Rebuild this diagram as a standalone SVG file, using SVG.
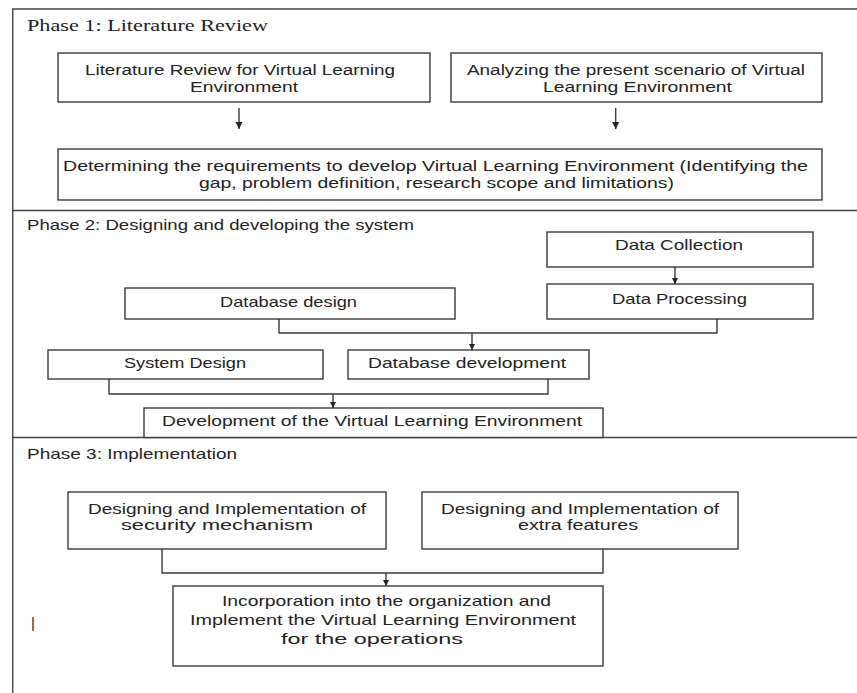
<svg xmlns="http://www.w3.org/2000/svg" width="857" height="693" viewBox="0 0 857 693">
<defs>
<marker id="ah" viewBox="0 0 10 10" refX="10" refY="5" markerUnits="userSpaceOnUse" markerWidth="7" markerHeight="9" orient="auto">
<path d="M0,0 L10,5 L0,10 z" fill="#222"/>
</marker>
<marker id="ahs" viewBox="0 0 10 10" refX="10" refY="5" markerUnits="userSpaceOnUse" markerWidth="6" markerHeight="8" orient="auto">
<path d="M0,0 L10,5 L0,10 z" fill="#222"/>
</marker>
</defs>
<style>
.box{fill:#fff;stroke:#3a3a3a;stroke-width:1.4}
.frame{fill:none;stroke:#444;stroke-width:1.4}
.con{fill:none;stroke:#3a3a3a;stroke-width:1.4}
.t{font-family:"Liberation Sans",Arial,sans-serif;font-size:15px;fill:#222}
.m{font-size:13.8px}
.serif{font-family:"Liberation Serif","Times New Roman",serif;font-size:17px;fill:#222}
</style>
<rect width="857" height="693" fill="#fff"/>
<g id="frame">
<path class="frame" d="M857,9 H12.7 V693"/>
<line class="frame" x1="12.7" y1="210.5" x2="857" y2="210.5"/>
<line class="frame" x1="12.7" y1="437.5" x2="857" y2="437.5"/>
</g>
<g id="titles">
<text class="serif" x="27" y="31" textLength="241" lengthAdjust="spacingAndGlyphs">Phase 1: Literature Review</text>
<text class="t" x="27" y="229.5" textLength="387" lengthAdjust="spacingAndGlyphs">Phase 2: Designing and developing the system</text>
<text class="t" x="27" y="459" textLength="210" lengthAdjust="spacingAndGlyphs">Phase 3: Implementation</text>
</g>
<g id="n-litreview">
<rect class="box" x="58" y="53" width="372" height="49"/>
<text class="t m" x="85" y="75" textLength="310" lengthAdjust="spacingAndGlyphs">Literature Review for Virtual Learning</text>
<text class="t m" x="190" y="91.5" textLength="108" lengthAdjust="spacingAndGlyphs">Environment</text>
</g>
<g id="n-analyzing">
<rect class="box" x="451" y="53" width="371" height="49"/>
<text class="t m" x="467" y="75" textLength="338" lengthAdjust="spacingAndGlyphs">Analyzing the present scenario of Virtual</text>
<text class="t m" x="543" y="91.5" textLength="189" lengthAdjust="spacingAndGlyphs">Learning Environment</text>
</g>
<g id="n-requirements">
<rect class="box" x="58" y="149" width="764" height="51"/>
<text class="t m" x="63" y="170.5" textLength="745" lengthAdjust="spacingAndGlyphs">Determining the requirements to develop Virtual Learning Environment (Identifying the</text>
<text class="t m" x="199" y="188" textLength="475" lengthAdjust="spacingAndGlyphs">gap, problem definition, research scope and limitations)</text>
</g>
<g id="n-datacollection">
<rect class="box" x="547" y="232" width="266" height="35"/>
<text class="t" x="615" y="250" textLength="128" lengthAdjust="spacingAndGlyphs">Data Collection</text>
</g>
<g id="n-dataprocessing">
<rect class="box" x="547" y="284" width="266" height="35"/>
<text class="t" x="612" y="304" textLength="135" lengthAdjust="spacingAndGlyphs">Data Processing</text>
</g>
<g id="n-dbdesign">
<rect class="box" x="125" y="288" width="330" height="31"/>
<text class="t" x="220" y="306.5" textLength="137" lengthAdjust="spacingAndGlyphs">Database design</text>
</g>
<g id="n-systemdesign">
<rect class="box" x="48" y="350" width="275" height="29"/>
<text class="t" x="124" y="368" textLength="122" lengthAdjust="spacingAndGlyphs">System Design</text>
</g>
<g id="n-dbdev">
<rect class="box" x="348" y="350" width="241" height="29"/>
<text class="t" x="368" y="368" textLength="198" lengthAdjust="spacingAndGlyphs">Database development</text>
</g>
<g id="n-development">
<rect class="box" x="144" y="408" width="459" height="29.5"/>
<text class="t" x="162" y="426" textLength="420" lengthAdjust="spacingAndGlyphs">Development of the Virtual Learning Environment</text>
</g>
<g id="n-security">
<rect class="box" x="68" y="492" width="318" height="57"/>
<text class="t m" x="88" y="513.5" textLength="278" lengthAdjust="spacingAndGlyphs">Designing and Implementation of</text>
<text class="t m" x="121" y="530" textLength="192" lengthAdjust="spacingAndGlyphs">security mechanism</text>
</g>
<g id="n-extra">
<rect class="box" x="422" y="492" width="316" height="57"/>
<text class="t m" x="441" y="513.5" textLength="278" lengthAdjust="spacingAndGlyphs">Designing and Implementation of</text>
<text class="t m" x="518" y="530" textLength="120" lengthAdjust="spacingAndGlyphs">extra features</text>
</g>
<g id="n-incorporation">
<rect class="box" x="173" y="586" width="430" height="80"/>
<text class="t" x="222" y="605.5" textLength="329" lengthAdjust="spacingAndGlyphs">Incorporation into the organization and</text>
<text class="t" x="190" y="624.5" textLength="386" lengthAdjust="spacingAndGlyphs">Implement the Virtual Learning Environment</text>
<text class="t" x="281" y="643.5" textLength="182" lengthAdjust="spacingAndGlyphs">for the operations</text>
</g>
<g id="stray">
<text class="t" x="31" y="628" font-size="18">|</text>
</g>
<g id="connectors">
<line class="con" x1="239" y1="108" x2="239" y2="129" marker-end="url(#ah)"/>
<line class="con" x1="615.7" y1="108" x2="615.7" y2="129" marker-end="url(#ah)"/>
<line class="con" x1="675" y1="267" x2="675" y2="284" marker-end="url(#ahs)"/>
<path class="con" d="M279,319 V333 H717 V319"/>
<line class="con" x1="472" y1="333" x2="472" y2="350" marker-end="url(#ahs)"/>
<path class="con" d="M109,379 V394 H548 V379"/>
<line class="con" x1="333" y1="394" x2="333" y2="408" marker-end="url(#ahs)"/>
<path class="con" d="M162,549 V573 H603 V549"/>
<line class="con" x1="386" y1="573" x2="386" y2="586" marker-end="url(#ahs)"/>
</g>
</svg>
